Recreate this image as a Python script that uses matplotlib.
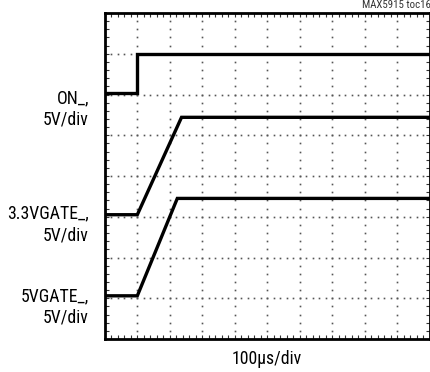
import numpy as np
import matplotlib.pyplot as plt

# scope settings
us_per_div = 100
volts_per_div = 5
n_xdiv, n_ydiv = 10, 8

# traces (time in us, voltage in V)
t_on = [0, 101, 101, 1000]
v_on = [0.15, 0.15, 5.0, 5.0]

t_g33 = [0, 101, 237, 1000]
v_g33 = [0.25, 0.25, 12.2, 12.2]

t_g5 = [0, 101, 224, 1000]
v_g5 = [0.3, 0.3, 12.25, 12.25]

ch_names = ['ON_,', '3.3VGATE_,', '5VGATE_,']
ch_scales = ['5V/div', '5V/div', '5V/div']
ch_ground = [6, 3, 1]   # ground level, divisions from bottom

font = ['Roboto Condensed', 'DejaVu Sans']

fig = plt.figure(figsize=(4.3, 3.72), dpi=100)
ax = fig.add_axes([104.5 / 430, 33 / 372, 325 / 430, 326 / 372])

xmax = n_xdiv * us_per_div
ax.set_xlim(0, xmax)
ax.set_ylim(0, n_ydiv)

# dotted graticule, dots every 1/5 division
ydots = np.arange(0, n_ydiv + 0.001, 0.2)
xdots = np.arange(0, xmax + 0.001, us_per_div / 5)
for gx in np.arange(us_per_div, xmax, us_per_div):
    ax.plot(np.full_like(ydots, gx), ydots, ls='none', marker='s', ms=1.2,
            mec='none', mfc='#555555')
for gy in range(1, n_ydiv):
    ax.plot(xdots, np.full_like(xdots, gy), ls='none', marker='s', ms=1.2,
            mec='none', mfc='#555555')

# traces
for t, v, g in [(t_on, v_on, ch_ground[0]),
                (t_g33, v_g33, ch_ground[1]),
                (t_g5, v_g5, ch_ground[2])]:
    ax.plot(t, g + np.array(v) / volts_per_div, color='black', lw=2.4,
            solid_joinstyle='miter')

# frame with inward ticks
ax.set_xticks(xdots)
ax.set_yticks(ydots)
ax.set_xticklabels([])
ax.set_yticklabels([])
ax.tick_params(direction='in', length=3, width=0.8, color='#333333',
               top=True, right=True)
for s in ax.spines.values():
    s.set_linewidth(2)

# channel labels on the left
label_y = [(98, 120), (213, 235), (296, 318)]
for name, scale, (y1, y2) in zip(ch_names, ch_scales, label_y):
    fig.text(89 / 430, 1 - y1 / 372, name, ha='right', va='center',
             fontsize=12.8, family=font)
    fig.text(89 / 430, 1 - y2 / 372, scale, ha='right', va='center',
             fontsize=12.8, family=font)

fig.text(267 / 430, 1 - 359 / 372, '100\u03bcs/div', ha='center', va='center',
         fontsize=12.8, family=font)
fig.text(431 / 430, 1 - 4.5 / 372, 'MAX5915 toc16', ha='right', va='center',
         fontsize=7.8, family=font, color='#333333')

fig.savefig('out.png', dpi=100)
